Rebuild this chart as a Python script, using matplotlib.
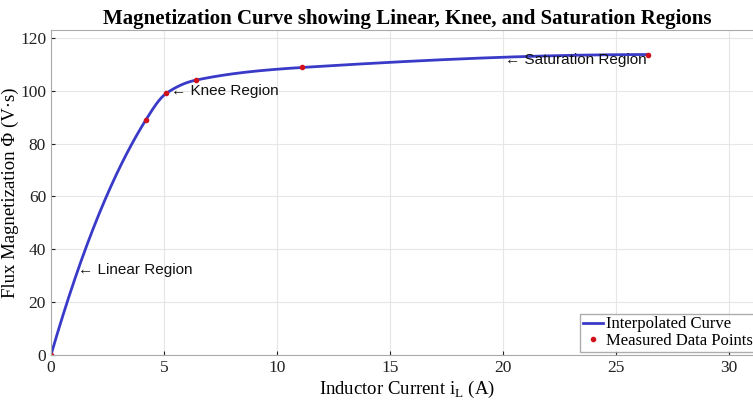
import numpy as np
import matplotlib.pyplot as plt

# Measured flux vs current
current = np.array([0.0, 4.2, 5.1, 6.4, 11.1, 26.4])
flux = np.array([0.0, 89.0, 99.0, 104.0, 108.8, 113.7])

region_labels = ["Linear Region", "Knee Region", "Saturation Region"]
region_x = [1.2, 5.3, 20.1]
region_y = [32.0, 100.0, 111.8]


def pchip(x, y, xq):
    # shape-preserving piecewise cubic (Fritsch-Carlson)
    h = np.diff(x)
    d = np.diff(y) / h
    n = len(x)
    m = np.zeros(n)
    for k in range(1, n - 1):
        if d[k - 1] * d[k] > 0:
            w1 = 2 * h[k] + h[k - 1]
            w2 = h[k] + 2 * h[k - 1]
            m[k] = (w1 + w2) / (w1 / d[k - 1] + w2 / d[k])
    m[0] = ((2 * h[0] + h[1]) * d[0] - h[0] * d[1]) / (h[0] + h[1])
    if np.sign(m[0]) != np.sign(d[0]):
        m[0] = 0
    elif np.sign(d[0]) != np.sign(d[1]) and abs(m[0]) > abs(3 * d[0]):
        m[0] = 3 * d[0]
    m[-1] = ((2 * h[-1] + h[-2]) * d[-1] - h[-1] * d[-2]) / (h[-1] + h[-2])
    if np.sign(m[-1]) != np.sign(d[-1]):
        m[-1] = 0
    elif np.sign(d[-1]) != np.sign(d[-2]) and abs(m[-1]) > abs(3 * d[-1]):
        m[-1] = 3 * d[-1]
    idx = np.clip(np.searchsorted(x, xq) - 1, 0, n - 2)
    t = (xq - x[idx]) / h[idx]
    h00 = 2 * t**3 - 3 * t**2 + 1
    h10 = t**3 - 2 * t**2 + t
    h01 = -2 * t**3 + 3 * t**2
    h11 = t**3 - t**2
    return h00 * y[idx] + h10 * h[idx] * m[idx] + h01 * y[idx + 1] + h11 * h[idx] * m[idx + 1]


xs = np.linspace(current[0], current[-1], 500)
ys = pchip(current, flux, xs)

plt.rcParams['font.family'] = ['Liberation Serif', 'DejaVu Serif']

fig = plt.figure(figsize=(7.53, 4.05), dpi=100)
# axes run slightly past the right edge of the figure
ax = fig.add_axes([0.0677, 0.1235, 0.9456, 0.8025])

ax.plot(xs, ys, color="#3a3ac8", linewidth=2, label="Interpolated Curve")
ax.plot(current, flux, "o", color="#d0101a", markersize=3, linestyle="none",
        label="Measured Data Points")

for lab, tx, ty in zip(region_labels, region_x, region_y):
    ax.text(tx, ty, "\u2190 " + lab, fontsize=11, family="Liberation Sans",
            va="center", ha="left", color="#111111")

ax.set_xlim(0, 31.5)
ax.set_ylim(0, 123)
ax.set_xticks(np.arange(0, 31, 5))
ax.set_yticks(np.arange(0, 121, 20))
ax.tick_params(direction="in", labelsize=12.5, colors="#222222", length=3)
ax.grid(True, color="#e6e6e6", linewidth=0.8)
for s in ax.spines.values():
    s.set_color("#aaaaaa")

ax.set_title("Magnetization Curve showing Linear, Knee, and Saturation Regions",
             fontsize=15, fontweight="bold", pad=4)
ax.set_xlabel("Inductor Current i$_\\mathregular{L}$ (A)", fontsize=13.5, labelpad=2)
ax.set_ylabel("Flux Magnetization \u03a6 (V\u00b7s)", fontsize=13.5, labelpad=1)

ax.legend(loc="lower left", bbox_to_anchor=(0.743, 0.01), fontsize=12,
          handlelength=1.2, handletextpad=0.2, borderpad=0.15, labelspacing=0.05,
          fancybox=False, edgecolor="#999999", borderaxespad=0)

fig.savefig("out.png", dpi=100)
